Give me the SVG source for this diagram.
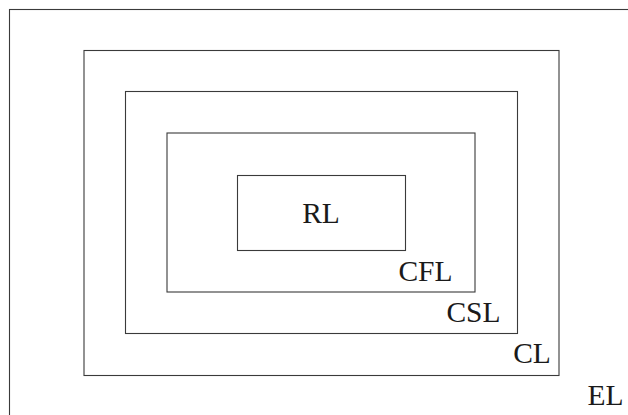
<svg xmlns="http://www.w3.org/2000/svg" width="628" height="415" viewBox="0 0 628 415">
<style>
rect.layer{fill:none;stroke:#3a3a3a;stroke-width:1.1}
text{font-family:"Liberation Serif","DejaVu Serif",serif;font-size:29.5px;fill:#1a1a1a;text-anchor:middle}
</style>
<rect width="628" height="415" fill="#fff"/>
<g id="EL"><rect class="layer" x="9.5" y="9.5" width="630" height="420"/><text x="605.5" y="405">EL</text></g>
<g id="CL"><rect class="layer" x="84" y="50.5" width="475" height="325"/><text x="532" y="363">CL</text></g>
<g id="CSL"><rect class="layer" x="125.5" y="91.5" width="392" height="242"/><text x="473.5" y="322">CSL</text></g>
<g id="CFL"><rect class="layer" x="167" y="133" width="308" height="159"/><text x="425.5" y="281">CFL</text></g>
<g id="RL"><rect class="layer" x="237.5" y="175.5" width="168" height="75"/><text x="321" y="223">RL</text></g>
<g id="connectors"></g>
</svg>
